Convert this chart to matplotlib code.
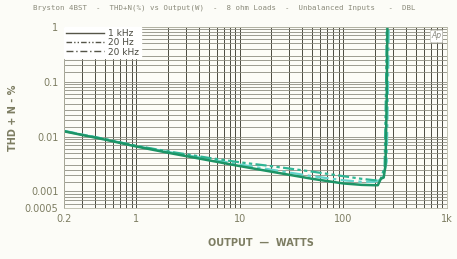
import matplotlib

matplotlib.use("Agg")
import matplotlib.pyplot as plt
from matplotlib.ticker import FixedLocator, LogLocator, NullFormatter

TITLE = "Bryston 4BST  -  THD+N(%) vs Output(W)  -  8 ohm Loads  -  Unbalanced Inputs   -  DBL"

power_1k = [0.2, 0.5, 1, 2, 5, 10, 20, 50, 100, 150, 200, 215, 230, 245, 255, 262, 266]
thd_1k = [0.0125, 0.0088, 0.0066, 0.0051, 0.0037, 0.0029, 0.0023, 0.0017, 0.0014,
          0.00132, 0.0013, 0.0013, 0.0017, 0.0018, 0.003, 0.05, 1.0]

power_20 = [0.2, 0.5, 1, 2, 5, 10, 20, 50, 100, 150, 200, 230, 250, 258, 262]
thd_20 = [0.0126, 0.009, 0.0068, 0.0054, 0.0041, 0.0034, 0.0029, 0.0023, 0.0019,
          0.0017, 0.0016, 0.0017, 0.0028, 0.08, 1.0]

power_20k = [0.2, 0.5, 1, 2, 5, 10, 20, 50, 100, 150, 200, 240, 262, 270, 274]
thd_20k = [0.0128, 0.009, 0.0067, 0.0053, 0.0039, 0.0031, 0.0025, 0.0019, 0.0016,
           0.0015, 0.0015, 0.0017, 0.0035, 0.1, 1.0]

x_ticks = [0.2, 1, 10, 100, 1000]
x_labels = ["0.2", "1", "10", "100", "1k"]
y_ticks = [0.0005, 0.001, 0.01, 0.1, 1]
y_labels = ["0.0005", "0.001", "0.01", "0.1", "1"]

LABEL_COLOR = "#7d7d62"

fig = plt.figure(figsize=(4.57, 2.59), dpi=100)
fig.patch.set_facecolor("#fcfcf7")
ax = fig.add_axes([0.140, 0.197, 0.838, 0.699])
ax.set_facecolor("#fcfcf7")
ax.set_xscale("log")
ax.set_yscale("log")
ax.set_xlim(0.2, 1000)
ax.set_ylim(0.0005, 1)

# graph-paper grid
ax.xaxis.set_minor_locator(LogLocator(base=10, subs=range(2, 10)))
ax.yaxis.set_minor_locator(LogLocator(base=10, subs=[1.5, 2, 2.5, 3, 4, 5, 6, 7, 8, 9]))
ax.xaxis.set_minor_formatter(NullFormatter())
ax.yaxis.set_minor_formatter(NullFormatter())
ax.grid(which="both", axis="x", color="#4a4a40", linewidth=0.7)
ax.grid(which="both", axis="y", color="#8c8c80", linewidth=0.6)
ax.set_axisbelow(True)

ax.xaxis.set_major_locator(FixedLocator(x_ticks))
ax.set_xticklabels(x_labels)
ax.yaxis.set_major_locator(FixedLocator(y_ticks))
ax.set_yticklabels(y_labels)
ax.tick_params(which="both", length=0, labelsize=7, labelcolor=LABEL_COLOR, pad=4)

for side in ax.spines.values():
    side.set_color("#b8b8a8")
    side.set_linewidth(0.6)

ax.plot(power_20k, thd_20k, color="#63d4cc", linewidth=1.6, linestyle=(0, (6, 2, 1.5, 2)))
ax.plot(power_20, thd_20, color="#2fb594", linewidth=1.6, linestyle=(0, (5, 1.5, 1.5, 1.5, 1.5, 1.5)))
ax.plot(power_1k, thd_1k, color="#1c9466", linewidth=1.8)

# legend drawn with grey sample lines
handles = [
    plt.Line2D([], [], color="#555548", linewidth=1.0),
    plt.Line2D([], [], color="#555548", linewidth=1.0, linestyle=(0, (4, 1.5, 1, 1.5, 1, 1.5))),
    plt.Line2D([], [], color="#555548", linewidth=1.0, linestyle=(0, (5, 2, 1, 2))),
]
leg = ax.legend(handles, ["1 kHz", "20 Hz", "20 kHz"], loc="upper left",
                bbox_to_anchor=(0.0, 1.0), fontsize=6.5, frameon=True, fancybox=False,
                borderpad=0.2, labelspacing=0.05, handlelength=4.2, handletextpad=0.5,
                borderaxespad=0.0)
leg.get_frame().set_facecolor("white")
leg.get_frame().set_edgecolor("white")
leg.get_frame().set_alpha(1.0)
for txt in leg.get_texts():
    txt.set_color("#4a4a40")

ax.text(0.985, 0.975, "Ap", transform=ax.transAxes, ha="right", va="top", fontsize=5.5,
        color="#8a8a80", style="italic",
        bbox=dict(boxstyle="square,pad=0.15", facecolor="white", edgecolor="#c8c8c0", linewidth=0.5))

fig.text(0.072, 0.972, TITLE, fontsize=5.3, family="DejaVu Sans Mono", color="#8a8a7a",
         ha="left", va="center")
fig.text(0.028, 0.545, "THD + N - %", rotation=90, fontsize=7, color=LABEL_COLOR,
         ha="center", va="center", fontweight="bold")
fig.text(0.57, 0.06, "OUTPUT  \u2014  WATTS", fontsize=7, color=LABEL_COLOR,
         ha="center", va="center", fontweight="bold")

fig.savefig("out.png", dpi=100, facecolor=fig.get_facecolor())
